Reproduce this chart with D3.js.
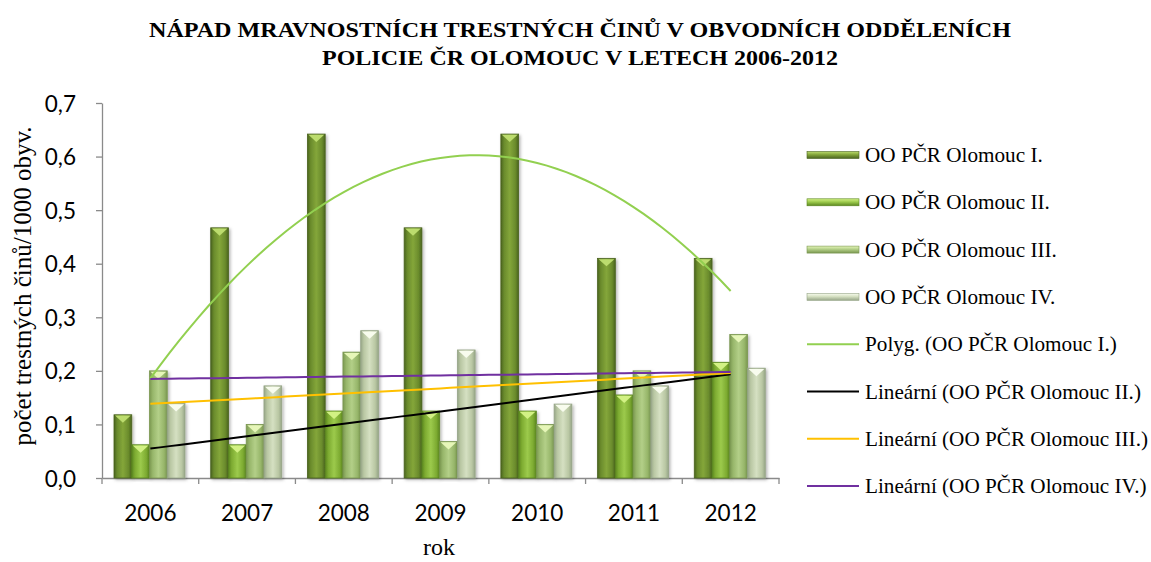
<!DOCTYPE html>
<html>
<head>
<meta charset="utf-8">
<script src="https://d3js.org/d3.v7.min.js"></script>
<style>
  body { margin: 0; background: #fff; }
  svg { display: block; }
  .serif { font-family: "Liberation Serif", "Times New Roman", Times, serif; }
</style>
</head>
<body>
<div id="viz"></div>
<script>
// data
const years = ['2006', '2007', '2008', '2009', '2010', '2011', '2012'];
const seriesNames = ['OO PČR Olomouc I.', 'OO PČR Olomouc II.', 'OO PČR Olomouc III.', 'OO PČR Olomouc IV.'];
const olomoucI   = [0.118, 0.467, 0.642, 0.467, 0.642, 0.410, 0.410];
const olomoucII  = [0.062, 0.062, 0.125, 0.125, 0.125, 0.155, 0.216];
const olomoucIII = [0.200, 0.100, 0.235, 0.068, 0.100, 0.200, 0.268];
const olomoucIV  = [0.139, 0.172, 0.275, 0.239, 0.138, 0.172, 0.205];
const yTicks = [0, 0.1, 0.2, 0.3, 0.4, 0.5, 0.6, 0.7];
const trendNames = ['Polyg. (OO PČR Olomouc I.)', 'Lineární (OO PČR Olomouc II.)',
                    'Lineární (OO PČR Olomouc III.)', 'Lineární (OO PČR Olomouc IV.)'];

const allSeries = [olomoucI, olomoucII, olomoucIII, olomoucIV];

const W = 1151, H = 562;
const svg = d3.select('#viz').append('svg').attr('width', W).attr('height', H);
const defs = svg.append('defs');

// bar colours: dark edge, mid, light centre, top triangle
const pal = [
  {dark: '#4a631f', mid: '#6a8b2c', light: '#84a63a', tri: '#bcdc6e'},
  {dark: '#5a861f', mid: '#7dab31', light: '#9cca4c', tri: '#d2f184'},
  {dark: '#7a9750', mid: '#97b66a', light: '#b3cf88', tri: '#e6f6b8'},
  {dark: '#96a587', mid: '#b9c7a3', light: '#d5e0c2', tri: '#f8fcee'}
];

pal.forEach((p, i) => {
  const g = defs.append('linearGradient').attr('id', 'bar' + i)
    .attr('x1', 0).attr('x2', 1).attr('y1', 0).attr('y2', 0);
  [[0, p.dark], [0.18, p.mid], [0.5, p.light], [0.82, p.mid], [1, p.dark]]
    .forEach(s => g.append('stop').attr('offset', s[0]).attr('stop-color', s[1]));
  const l = defs.append('linearGradient').attr('id', 'leg' + i)
    .attr('x1', 0).attr('x2', 0).attr('y1', 0).attr('y2', 1);
  [[0, p.tri], [0.45, p.light], [1, p.dark]]
    .forEach(s => l.append('stop').attr('offset', s[0]).attr('stop-color', s[1]));
});

const shadow = defs.append('filter').attr('id', 'shadow')
  .attr('x', '-20%').attr('y', '-5%').attr('width', '150%').attr('height', '115%');
shadow.append('feDropShadow').attr('dx', 1.5).attr('dy', 1.5)
  .attr('stdDeviation', 1.5).attr('flood-color', '#000').attr('flood-opacity', 0.3);

// scales
const x0 = d3.scaleBand().domain(years).range([102, 779]);
const x1 = d3.scaleBand().domain(d3.range(4)).range([12, 83]);
const y = d3.scaleLinear().domain([0, 0.7]).range([478, 103]);

const comma = v => d3.format('.1f')(v).replace('.', ',');

// title
const title = svg.append('g').attr('class', 'serif')
  .style('font-weight', 'bold').style('font-size', '21px').attr('text-anchor', 'middle');
title.append('text').attr('x', 580).attr('y', 37)
  .attr('textLength', 862).attr('lengthAdjust', 'spacingAndGlyphs')
  .text('NÁPAD MRAVNOSTNÍCH TRESTNÝCH ČINŮ V OBVODNÍCH ODDĚLENÍCH');
title.append('text').attr('x', 580).attr('y', 65)
  .attr('textLength', 516).attr('lengthAdjust', 'spacingAndGlyphs')
  .text('POLICIE ČR OLOMOUC V LETECH 2006-2012');

// y axis
const yAxis = svg.append('g').attr('transform', 'translate(102,0)')
  .call(d3.axisLeft(y).tickValues(yTicks).tickFormat(comma).tickSize(6).tickSizeOuter(0).tickPadding(20));
yAxis.selectAll('path, line').attr('stroke', '#8a8a8a').attr('stroke-width', 1.3);
yAxis.selectAll('text').style('font-family', 'Lato, "Open Sans", sans-serif')
  .style('font-size', '22.5px').attr('fill', '#000').attr('dy', '0.36em');

// x axis
const xAxis = svg.append('g').attr('transform', 'translate(0,478)')
  .call(d3.axisBottom(x0).tickSize(0).tickSizeOuter(0).tickPadding(27));
xAxis.selectAll('path').attr('stroke', '#8a8a8a').attr('stroke-width', 1.3);
xAxis.selectAll('text').style('font-family', 'Lato, "Open Sans", sans-serif')
  .style('font-size', '22.5px').attr('fill', '#000');
const bounds = years.map(d => x0(d)).concat([x0.range()[1]]);
xAxis.selectAll('.bound').data(bounds).join('line').attr('class', 'bound')
  .attr('x1', d => d).attr('x2', d => d).attr('y1', 0).attr('y2', 6)
  .attr('stroke', '#8a8a8a').attr('stroke-width', 1.3);

// axis titles
svg.append('text').attr('class', 'serif').attr('transform', 'translate(31,286) rotate(-90)')
  .attr('text-anchor', 'middle').style('font-size', '25px')
  .text('počet trestných činů/1000 obyv.');
svg.append('text').attr('class', 'serif').attr('x', 439).attr('y', 555).attr('text-anchor', 'middle')
  .style('font-size', '24px').text('rok');

// bars
const bars = [];
years.forEach((yr, i) => allSeries.forEach((s, k) => bars.push({yr, k, v: s[i]})));

const bw = x1.bandwidth();
const barG = svg.append('g').selectAll('g').data(bars).join('g')
  .attr('transform', d => `translate(${x0(d.yr) + x1(d.k)},0)`)
  .attr('filter', 'url(#shadow)');
barG.append('rect')
  .attr('x', 0).attr('y', d => y(d.v)).attr('width', bw).attr('height', d => y(0) - y(d.v))
  .attr('fill', d => `url(#bar${d.k})`)
  .attr('stroke', d => pal[d.k].dark).attr('stroke-width', 0.8);
barG.append('path')
  .attr('d', d => {
    const t = y(d.v);
    return `M1,${t + 0.8} L${bw - 1},${t + 0.8} L${bw / 2},${t + 8} Z`;
  })
  .attr('fill', d => pal[d.k].tri);

// trend lines
const xs = years.map((d, i) => i + 1);
const xpos = t => x0(years[0]) + x0.bandwidth() / 2 + (t - 1) * x0.step();

function linFit(ys) {
  const mx = d3.mean(xs), my = d3.mean(ys);
  const b = d3.sum(xs, (x, i) => (x - mx) * (ys[i] - my)) / d3.sum(xs, x => (x - mx) ** 2);
  return t => my + b * (t - mx);
}
function quadFit(ys) {
  // least squares with centred x (symmetric, odd sums vanish)
  const mx = d3.mean(xs);
  const ts = xs.map(x => x - mx);
  const n = ts.length, s2 = d3.sum(ts, t => t * t), s4 = d3.sum(ts, t => t ** 4);
  const sy = d3.sum(ys), sty = d3.sum(ts, (t, i) => t * ys[i]), st2y = d3.sum(ts, (t, i) => t * t * ys[i]);
  const c = (st2y * n - s2 * sy) / (s4 * n - s2 * s2);
  const a = (sy - c * s2) / n;
  const b = sty / s2;
  return t => a + b * (t - mx) + c * (t - mx) ** 2;
}

const trendColors = ['#92d050', '#000000', '#ffc000', '#7030a0'];
const fits = [quadFit(olomoucI), linFit(olomoucII), linFit(olomoucIII), linFit(olomoucIV)];
const samples = d3.range(0, 61).map(j => 1 + j * 6 / 60);
const line = d3.line().x(t => xpos(t));
fits.forEach((f, k) => {
  svg.append('path').datum(samples)
    .attr('d', line.y(t => y(f(t))))
    .attr('fill', 'none').attr('stroke', trendColors[k]).attr('stroke-width', 2);
});

// legend
const legY = d3.range(8).map(i => 155 + i * 47.3);
const legSize = '21.2px';
const leg = svg.append('g').attr('class', 'serif');
seriesNames.forEach((name, i) => {
  leg.append('rect').attr('x', 807).attr('y', legY[i] - 3.5).attr('width', 52).attr('height', 7)
    .attr('fill', `url(#leg${i})`).attr('stroke', pal[i].dark).attr('stroke-width', 0.6);
  leg.append('text').attr('x', 865).attr('y', legY[i] + 7)
    .style('font-size', legSize).text(name);
});
trendNames.forEach((name, i) => {
  const yy = legY[i + 4];
  leg.append('line').attr('x1', 807).attr('x2', 859).attr('y1', yy).attr('y2', yy)
    .attr('stroke', trendColors[i]).attr('stroke-width', 2);
  leg.append('text').attr('x', 865).attr('y', yy + 7)
    .style('font-size', legSize).text(name);
});
</script>
</body>
</html>
